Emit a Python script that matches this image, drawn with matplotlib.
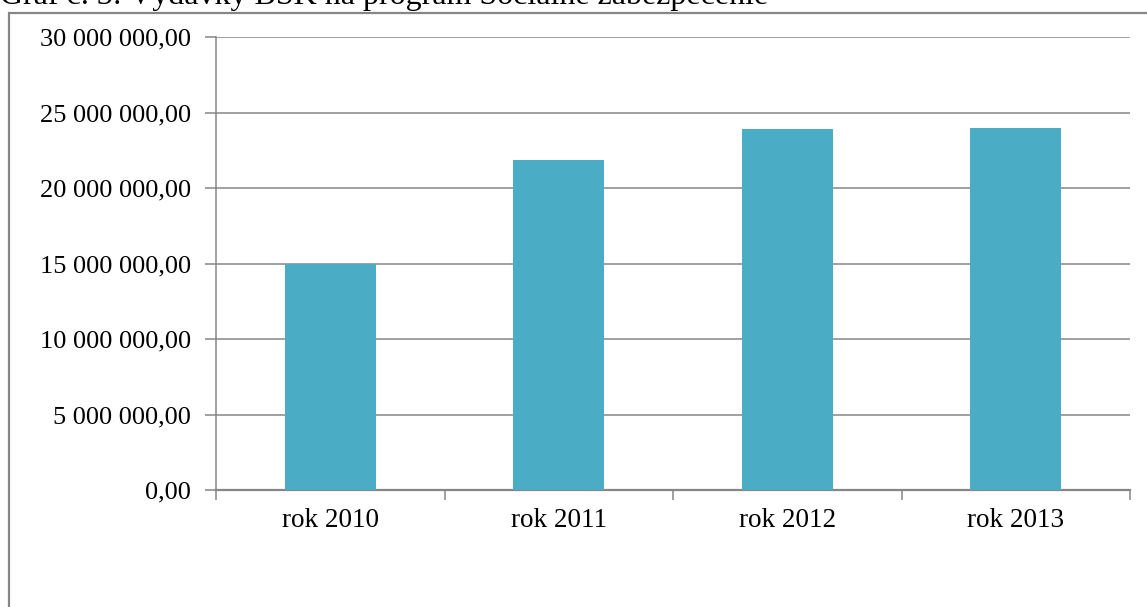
import matplotlib
matplotlib.use("Agg")
import matplotlib.pyplot as plt
from matplotlib.ticker import FuncFormatter, FixedLocator
from matplotlib.patches import Rectangle

# data
years = ["rok 2010", "rok 2011", "rok 2012", "rok 2013"]
spending = [15000000, 21850000, 23900000, 23970000]
title = "Graf č. 3: Výdavky BSK na program Sociálne zabezpečenie"

plt.rcParams["font.family"] = ["Liberation Serif", "DejaVu Serif"]

W, H = 1147, 607
fig = plt.figure(figsize=(W / 100, H / 100), dpi=100)

# outer chart frame (cut off at right and bottom like in the source)
frame = Rectangle((9 / W, -0.1), 1.2, 1 - 13 / H + 0.1, transform=fig.transFigure,
                  fill=False, edgecolor="#868686", linewidth=1.6)
fig.patches.append(frame)

fig.text(0.0, 1 - 4 / H, title, fontsize=23, ha="left", va="baseline")

ax = fig.add_axes([216 / W, (H - 490) / H, (1130 - 216) / W, (490 - 37) / H])

x = range(len(years))
ax.bar(x, spending, width=0.4, color="#4BACC6", zorder=3)

ax.set_xlim(-0.5, len(years) - 0.5)
ax.set_ylim(0, 30000000)
ax.set_yticks(range(0, 30000001, 5000000))

def fmt(v, pos):
    s = f"{int(v):,}".replace(",", " ")
    return s + ",00"

ax.yaxis.set_major_formatter(FuncFormatter(fmt))
ax.grid(axis="y", color="#868686", linewidth=1.1, zorder=0)

ax.set_xticks(list(x))
ax.set_xticklabels(years)
ax.xaxis.set_minor_locator(FixedLocator([i - 0.5 for i in range(len(years) + 1)]))
ax.tick_params(axis="x", which="major", length=0, pad=13, labelsize=19.5)
ax.tick_params(axis="x", which="minor", length=7, width=1.1, color="#868686", direction="out")
ax.tick_params(axis="y", length=8, width=1.1, color="#868686", pad=10, labelsize=19)

for side in ["top", "right"]:
    ax.spines[side].set_visible(False)
ax.spines["left"].set_color("#868686")
ax.spines["bottom"].set_color("#868686")
ax.spines["left"].set_linewidth(1.1)
ax.spines["bottom"].set_linewidth(1.6)

fig.savefig("out.png", dpi=100)
